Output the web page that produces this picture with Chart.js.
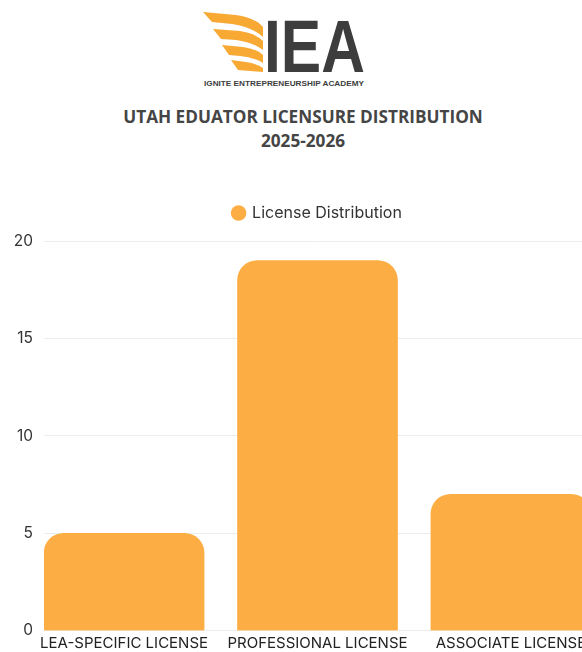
<!DOCTYPE html>
<html lang="en">
<head>
    <meta charset="UTF-8">
    <title>Utah Educator Licensure Distribution</title>
    <script src="https://cdn.jsdelivr.net/npm/chart.js"></script>
    <style>
        body { margin: 0; background: #fff; width: 582px; height: 652px; overflow: hidden; position: relative; font-family: Inter, "Open Sans", sans-serif; }
        #logo { position: absolute; left: 0; top: 0; }
        #title { position: absolute; left: 24px; top: 105px; width: 558px; text-align: center; color: #454545; font-family: "Open Sans", sans-serif; font-weight: 700; font-size: 17.2px; line-height: 24px; }
        #wrap { position: absolute; left: 0; top: 170px; width: 660px; height: 481px; }
    </style>
</head>
<body>
    <svg id="logo" width="582" height="100">
        <g fill="#F7A934">
            <path d="M203,12 L236,15 Q256,18 263,27 L263,37 Q252,27 232,24 L212,22 Z"/>
            <path d="M213,29 L240,31 Q257,34 263,41 L263,50 Q252,42 236,40 L221,39 Z"/>
            <path d="M222,45 L243,47 Q257,49 263,55 L263,63 Q253,57 240,56 L229,55 Z"/>
            <path d="M231,60 L246,62 Q258,64 263,68 L263,72 L238,70 Z"/>
        </g>
        <text x="264" y="72" font-family="Liberation Sans, Arial, sans-serif" font-weight="700" font-size="74" fill="#3d3d3d" textLength="101" lengthAdjust="spacingAndGlyphs">IEA</text>
        <text x="204" y="86" font-family="Liberation Sans, Arial, sans-serif" font-weight="700" font-size="7" fill="#3d3d3d" textLength="160" lengthAdjust="spacingAndGlyphs">IGNITE ENTREPRENEURSHIP ACADEMY</text>
    </svg>
    <div id="title">UTAH EDUATOR LICENSURE DISTRIBUTION<br>2025-2026</div>
    <div id="wrap"><canvas id="myChart"></canvas></div>
    <script>
        // 数据
        const categories = ['LEA-SPECIFIC LICENSE', 'PROFESSIONAL LICENSE', 'ASSOCIATE LICENSE'];
        const licenseCounts = [5, 19, 7];
        const yTicks = [0, 5, 10, 15, 20];
        const seriesName = 'License Distribution';

        const orange = '#FCAE45';

        // 图例和图表之间多留一点空
        const legendGap = {
            id: 'legendGap',
            beforeInit(chart) {
                const fit = chart.legend.fit;
                chart.legend.fit = function () {
                    fit.bind(chart.legend)();
                    this.height += 10;
                };
            }
        };

        const ctx = document.getElementById('myChart').getContext('2d');
        const myChart = new Chart(ctx, {
            type: 'bar',
            data: {
                datasets: [{
                    label: seriesName,
                    data: licenseCounts.map((v, i) => ({ x: i, y: v })),
                    backgroundColor: orange,
                    borderColor: orange,
                    borderWidth: 0,
                    borderRadius: 20,
                    barThickness: 160,
                    pointStyle: 'circle'
                }]
            },
            plugins: [legendGap],
            options: {
                responsive: true,
                maintainAspectRatio: false,
                animation: false,
                layout: { padding: { left: 0, right: 69, top: 25, bottom: 0 } },
                plugins: {
                    legend: {
                        fullSize: false,
                        labels: {
                            usePointStyle: true,
                            boxWidth: 11,
                            boxHeight: 11,
                            color: '#333',
                            font: { family: 'Inter', size: 16 }
                        }
                    },
                    tooltip: { enabled: false }
                },
                scales: {
                    x: {
                        type: 'linear',
                        offset: false,
                        min: -0.414,
                        max: categories.length - 1 + 0.414,
                        grid: { display: false },
                        border: { display: false },
                        afterBuildTicks: (scale) => {
                            scale.ticks = categories.map((c, i) => ({ value: i }));
                        },
                        ticks: {
                            color: '#222',
                            font: { family: 'Inter', size: 15 },
                            maxRotation: 0,
                            autoSkip: false,
                            padding: -4,
                            callback: (v) => categories[v] ?? ''
                        }
                    },
                    y: {
                        min: 0,
                        max: 20,
                        afterBuildTicks: (scale) => {
                            scale.ticks = yTicks.map(v => ({ value: v }));
                        },
                        afterFit: (scale) => { scale.width = 44; },
                        grid: { color: '#ececec', drawTicks: false },
                        border: { display: false },
                        ticks: {
                            color: '#333',
                            font: { family: 'Inter', size: 15.5 },
                            padding: 11
                        }
                    }
                }
            }
        });
    </script>
</body>
</html>
